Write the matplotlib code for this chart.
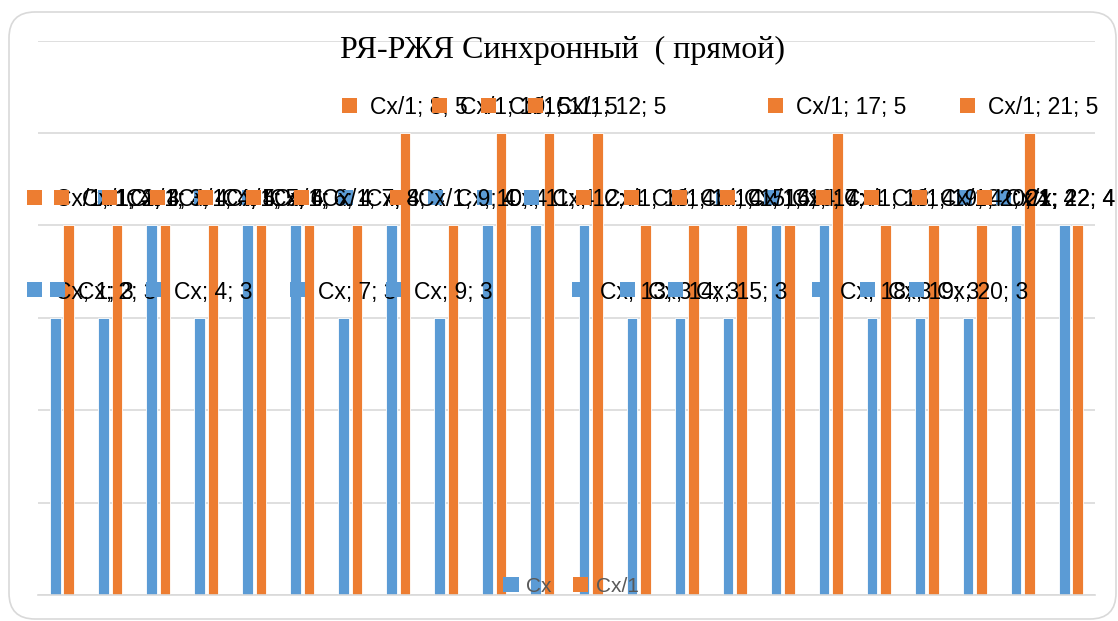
import numpy as np
import matplotlib.pyplot as plt
from matplotlib.patches import Rectangle, FancyBboxPatch, Patch
from matplotlib.transforms import IdentityTransform

# chart data
categories = list(range(1, 23))
cx = [3, 3, 4, 3, 4, 4, 3, 4, 3, 4, 4, 4, 3, 3, 3, 4, 4, 3, 3, 3, 4, 4]
cx1 = [4, 4, 4, 4, 4, 4, 4, 5, 4, 5, 5, 5, 4, 4, 4, 4, 5, 4, 4, 4, 5, 4]
series_names = ["Cx", "Cx/1"]
colors = ["#5B9BD5", "#ED7D31"]
title = "РЯ-РЖЯ Синхронный  ( прямой)"

W, H = 1118, 621
fig = plt.figure(figsize=(W / 100, H / 100), dpi=100)

# chart area frame
frame = FancyBboxPatch((9, 2), 1107, 607,
                       boxstyle="round,pad=0,rounding_size=26",
                       transform=IdentityTransform(),
                       facecolor="white", edgecolor="#d9d9d9", lw=1.2,
                       zorder=0)
fig.add_artist(frame)

ax = fig.add_axes([38 / W, 26 / H, (1095 - 38) / W, (595 - 40.7) / H])
ax.set_facecolor("none")
x = np.arange(1, len(categories) + 1)
width = 0.22
offset = 0.14
ax.bar(x - offset, cx, width, color=colors[0], edgecolor="white",
       linewidth=0.6, zorder=2)
ax.bar(x + offset, cx1, width, color=colors[1], edgecolor="white",
       linewidth=0.6, zorder=2)

ax.set_xlim(0.5, len(categories) + 0.5)
ax.set_ylim(0, 6)
ax.set_yticks(range(7))
ax.yaxis.grid(True, color="#d9d9d9", lw=1.2)
ax.set_axisbelow(True)
ax.tick_params(left=False, bottom=False, labelleft=False, labelbottom=False)
for s in ["top", "left", "right"]:
    ax.spines[s].set_visible(False)
ax.spines["bottom"].set_color("#d9d9d9")
ax.spines["bottom"].set_linewidth(1.2)

# data labels with legend keys (placed in pixels, kept inside the chart area)
key = 15
gap = 13
renderer = fig.canvas.get_renderer()
z = 5
for name, vals, col, sgn in zip(series_names, [cx, cx1], colors, [-1, 1]):
    for cat, v in zip(categories, vals):
        xa, ya = ax.transData.transform((cat + sgn * offset, v))
        t = fig.text(0, 0, f"{name}; {cat}; {v}", transform=IdentityTransform(),
                     ha="left", va="baseline", fontsize=16.5,
                     family="Liberation Sans", color="black", zorder=z + 1)
        tw = t.get_window_extent(renderer).width
        total = key + gap + tw
        left = max(27, xa - total / 2)
        if left + total > 1115:
            left = 1115 - total
        t.set_position((left + key + gap, ya + 19))
        fig.add_artist(Rectangle((left, ya + 28 - key / 2), key, key,
                                 transform=IdentityTransform(), facecolor=col,
                                 edgecolor="none", zorder=z))
        z += 2

fig.text(563 / W, 1 - 50 / H, title, ha="center", va="center",
         fontsize=23, family="Liberation Serif", color="black")

handles = [Patch(facecolor=c, edgecolor="none") for c in colors]
fig.legend(handles, series_names, loc="center",
           bbox_to_anchor=(571 / W, 1 - 586 / H), ncol=2, frameon=False,
           labelcolor="#595959", handlelength=0.75,
           handleheight=0.75, handletextpad=0.35, columnspacing=1.0,
           prop={"family": "Liberation Sans", "size": 15})

fig.savefig("out.png", dpi=100)
